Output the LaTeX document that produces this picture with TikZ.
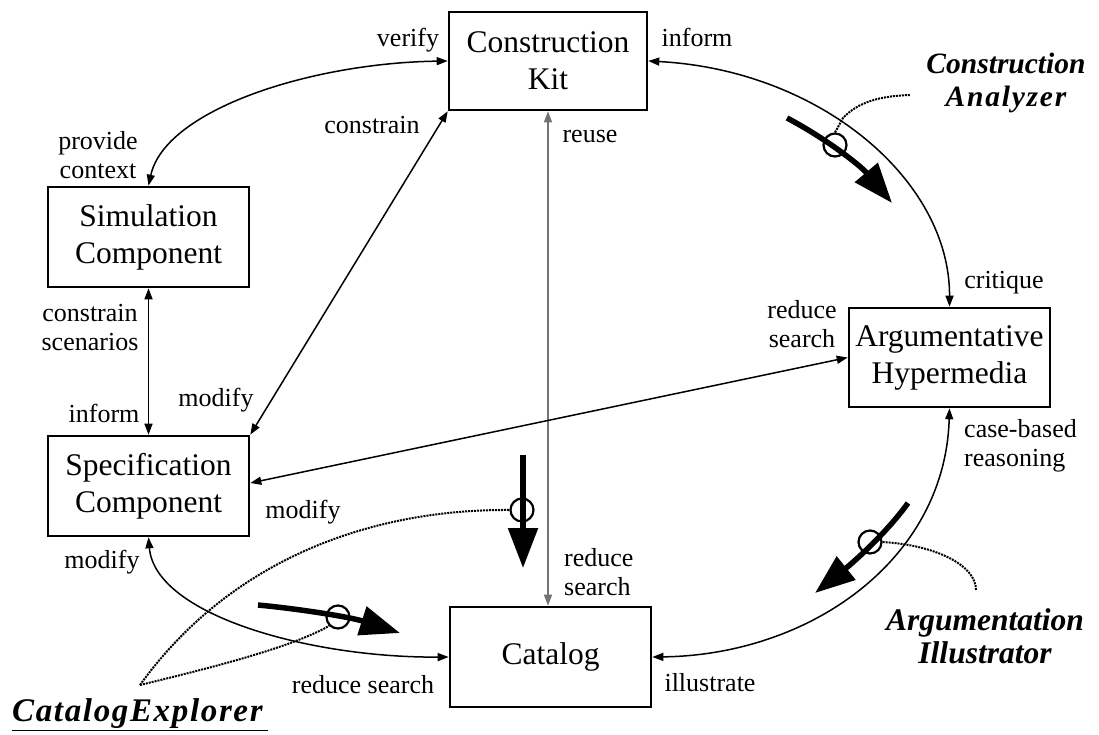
\documentclass[tikz,border=0pt]{standalone}
\usepackage{fontspec}
\setmainfont{Liberation Serif}
\usetikzlibrary{arrows.meta,calc}
\begin{document}
\begin{tikzpicture}[x=1pt,y=-1pt,
  box/.style={draw,line width=2.6pt,inner sep=0pt,align=center,font=\fontsize{31.5}{37}\selectfont},
  lbl/.style={inner sep=0pt,font=\fontsize{26}{29}\selectfont},
  conn/.style={line width=1.5pt,{Triangle[length=11pt,width=8pt]}-{Triangle[length=11pt,width=8pt]}},
  fat/.style={line width=5.5pt,-{Triangle[length=40pt,width=29pt]}},
  ring/.style={draw,circle,line width=2.2pt,minimum size=23pt,inner sep=0pt},
  wavy/.style={densely dotted,line width=2pt},
  tool/.style={inner sep=0pt,align=center,font=\fontsize{30}{33}\selectfont\bfseries\itshape}]
\useasboundingbox (0,0) rectangle (1099,735);
% boxes
\node[box,minimum width=198pt,minimum height=98pt] (ck) at (548,61) {Construction\\Kit};
\node[box,minimum width=201pt,minimum height=100pt] (sim) at (148.5,237) {Simulation\\Component};
\node[box,minimum width=201pt,minimum height=100pt] (spec) at (148.5,486) {Specification\\Component};
\node[box,minimum width=201pt,minimum height=100pt] (cat) at (550.5,657) {Catalog};
\node[box,minimum width=201pt,minimum height=99pt] (arg) at (949.5,357.5) {Argumentative\\Hypermedia};
% connectors
\draw[conn] (sim.north) .. controls (165,110) and (310,63) .. (ck.west);
\draw[conn] (spec.north east) -- (ck.south west);
\draw[conn] (sim.south) -- (spec.north);
\draw[conn] (ck.east) .. controls (820,70) and (950,180) .. (arg.north);
\draw[conn,draw=black!55] (ck.south) -- (ck.south |- cat.north);
\draw[conn] (arg.west) -- ($(spec.east)+(0,-3)$);
\draw[conn] (arg.south) .. controls (945,560) and (810,655) .. (cat.east);
\draw[conn] (spec.south) .. controls (155,615) and (310,658) .. (cat.west);
% labels
\node[lbl] at (408,40) {verify};
\node[lbl,align=center] at (98,155) {provide\\context};
\node[lbl] at (372,125) {constrain};
\node[lbl,align=center] at (90,328) {constrain\\scenarios};
\node[lbl] at (104,413) {inform};
\node[lbl] at (216,400) {modify};
\node[lbl] at (697,37) {inform};
\node[lbl] at (590,137) {reuse};
\node[lbl] at (1004,283) {critique};
\node[lbl,align=center] at (802,324) {reduce\\search};
\node[lbl] at (303,512) {modify};
\node[lbl,align=left,anchor=west] at (964,446) {case-based\\reasoning};
\node[lbl,align=left,anchor=west] at (564,572) {reduce\\search};
\node[lbl] at (102,562) {modify};
\node[lbl] at (363,685) {reduce search};
\node[lbl] at (710,683) {illustrate};
% tool annotations
\node[tool,font=\fontsize{29.5}{33}\selectfont\bfseries\itshape] (ca) at (1006,83) {Construction\\{\addfontfeatures{LetterSpace=6}Analyzer}};
\node[tool,font=\fontsize{31.5}{33}\selectfont\bfseries\itshape] (ai) at (985,636) {Argumentation\\Illustrator};
\node[tool,anchor=west,font=\fontsize{33}{33}\selectfont\bfseries\itshape\addfontfeatures{LetterSpace=5}] (ce) at (12,715) {\underline{CatalogExplorer\,}};
% thick arrows and rings
\draw[fat] (787,118) .. controls (825,138) and (860,165) .. (892,203);
\node[ring] (r1) at (835,145) {};
\coordinate (ca1) at (843,118);
\draw[wavy] (r1.north) -- (ca1) .. controls (858,102) and (880,96) .. (910,95);
\draw[fat] (908,503) .. controls (885,535) and (850,565) .. (815,593);
\node[ring] (r2) at (870,542) {};
\draw[wavy] (r2.east) .. controls (935,545) and (976,565) .. (976,590);
\draw[fat] (523,455) -- (523,568);
\node[ring] (r3) at (522,510) {};
\draw[fat] (258,605) .. controls (300,609) and (350,617) .. (400,633);
\node[ring] (r4) at (338,617) {};
\coordinate (apex) at (140,685);
\draw[wavy] (apex) .. controls (230,560) and (370,509) .. (r3.west);
\draw[wavy] (apex) .. controls (210,668) and (290,648) .. (r4.south west);
\end{tikzpicture}
\end{document}
